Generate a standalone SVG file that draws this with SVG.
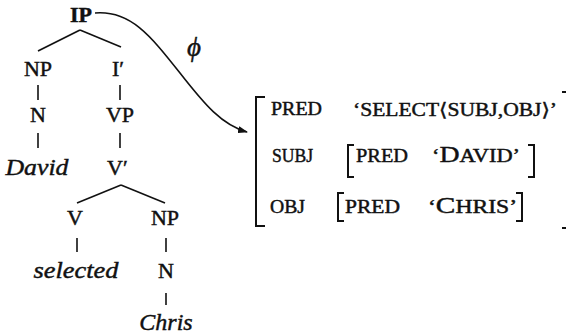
<svg xmlns="http://www.w3.org/2000/svg" width="566" height="334" viewBox="0 0 566 334" font-family="'Liberation Serif', 'Times New Roman', Times, 'DejaVu Serif', serif">
<style>
  text { font-family: 'Liberation Serif', 'Times New Roman', Times, 'DejaVu Serif', serif; fill: #111; stroke: #111; stroke-width: 0.45; }
  .cat { font-size: 22px; text-anchor: middle; }
  .lex { font-size: 24px; font-style: italic; text-anchor: middle; }
  .sc { font-size: 18.5px; }
  .big { font-size: 23px; }
  .edge { stroke: #111; stroke-width: 1.6; fill: none; }
  .br { stroke: #111; stroke-width: 2; fill: none; }
</style>
<defs>
  <marker id="ah" markerWidth="10" markerHeight="8" refX="9" refY="4" orient="auto" markerUnits="userSpaceOnUse">
    <path d="M0,0.5 L10,4 L0,7.5 Z" fill="#111"/>
  </marker>
</defs>
<g id="connectors">
  <line class="edge" x1="80" y1="30" x2="38" y2="51"/>
  <line class="edge" x1="80" y1="30" x2="121" y2="47"/>
  <line class="edge" x1="38" y1="85" x2="38" y2="100"/>
  <line class="edge" x1="120" y1="85" x2="120" y2="100"/>
  <line class="edge" x1="38" y1="133" x2="38" y2="148"/>
  <line class="edge" x1="120" y1="133" x2="120" y2="148"/>
  <line class="edge" x1="121" y1="185" x2="77" y2="203"/>
  <line class="edge" x1="121" y1="185" x2="165" y2="203"/>
  <line class="edge" x1="77" y1="238" x2="77" y2="252"/>
  <line class="edge" x1="166" y1="238" x2="166" y2="252"/>
  <line class="edge" x1="166" y1="293" x2="166" y2="305"/>
  <path id="phi-arrow" class="edge" d="M95,13 C130,10 150,35 180,73 C205,105 222,125 247,132" marker-end="url(#ah)"/>
  <text x="194" y="56" style="font-size:27px;font-style:italic;text-anchor:middle">ϕ</text>
</g>
<g id="node-IP"><text class="cat" x="81" y="22" font-weight="bold">IP</text></g>
<g id="node-NP1"><text class="cat" x="38" y="76">NP</text></g>
<g id="node-Ibar"><text x="112" y="76" style="font-size:22px">I′</text></g>
<g id="node-N1"><text class="cat" x="38" y="122">N</text></g>
<g id="node-VP"><text class="cat" x="120" y="122">VP</text></g>
<g id="node-David"><text class="lex" x="37" y="175" textLength="63" lengthAdjust="spacingAndGlyphs">David</text></g>
<g id="node-Vbar"><text x="107" y="175" style="font-size:22px">V′</text></g>
<g id="node-V"><text class="cat" x="75" y="225">V</text></g>
<g id="node-NP2"><text class="cat" x="165" y="225">NP</text></g>
<g id="node-selected"><text class="lex" x="76" y="278" textLength="85" lengthAdjust="spacingAndGlyphs">selected</text></g>
<g id="node-N2"><text class="cat" x="166" y="278">N</text></g>
<g id="node-Chris"><text class="lex" x="166" y="330">Chris</text></g>
<g id="node-fstructure">
  <path class="br" d="M265,97 H256 V226 H265"/>
  <path class="br" d="M562,92 H566"/>
  <path class="br" d="M562,228 H567"/>
  <text class="sc" x="271" y="115" textLength="51" lengthAdjust="spacingAndGlyphs">PRED</text>
  <text class="sc" x="353" y="116" textLength="204" lengthAdjust="spacingAndGlyphs">‘SELECT⟨SUBJ,OBJ⟩’</text>
  <text class="sc" x="272" y="162" textLength="41" lengthAdjust="spacingAndGlyphs">SUBJ</text>
  <path class="br" d="M354,145 H348 V177 H354"/>
  <text class="sc" x="356" y="162" textLength="52" lengthAdjust="spacingAndGlyphs">PRED</text>
  <text class="sc" x="432" y="162" textLength="88" lengthAdjust="spacingAndGlyphs">‘<tspan class="big">D</tspan>AVID’</text>
  <path class="br" d="M528,145 H534 V177 H528"/>
  <text class="sc" x="270" y="213" textLength="35" lengthAdjust="spacingAndGlyphs">OBJ</text>
  <path class="br" d="M344,193 H338 V221 H344"/>
  <text class="sc" x="345" y="213" textLength="55" lengthAdjust="spacingAndGlyphs">PRED</text>
  <text class="sc" x="428" y="213" textLength="89" lengthAdjust="spacingAndGlyphs">‘<tspan class="big">C</tspan>HRIS’</text>
  <path class="br" d="M516,193 H522 V221 H516"/>
</g>
</svg>
